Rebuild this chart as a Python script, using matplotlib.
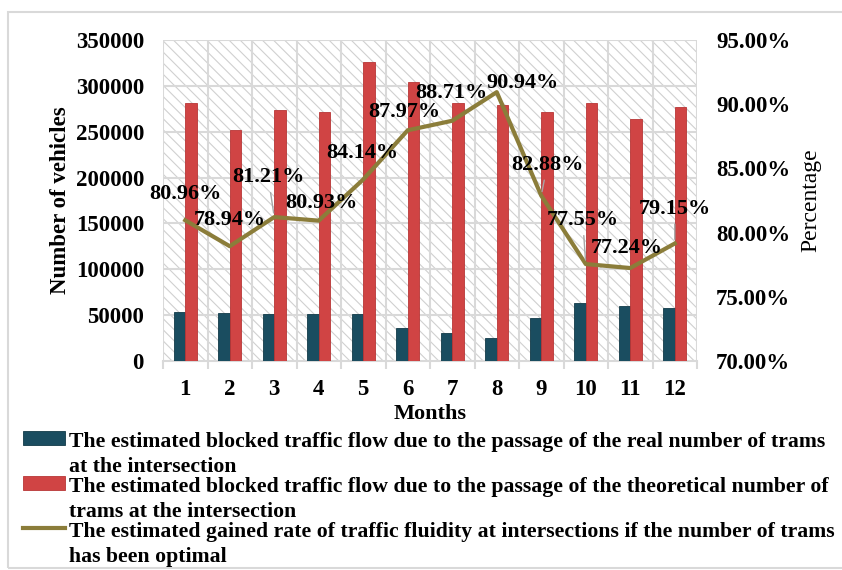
import matplotlib
matplotlib.use("Agg")
import matplotlib.pyplot as plt
from matplotlib.patches import Rectangle
from matplotlib.legend_handler import HandlerPatch, HandlerLine2D
from matplotlib.ticker import FuncFormatter, MultipleLocator
import numpy as np

months = ["1", "2", "3", "4", "5", "6", "7", "8", "9", "10", "11", "12"]
real_blocked = [53100, 52000, 50900, 50900, 50900, 35600, 30900, 24700, 46500, 62900, 60000, 57400]
theo_blocked = [281600, 251900, 274000, 271500, 326000, 304500, 281600, 279100, 271800, 281000, 263800, 276600]
gained_rate = [80.96, 78.94, 81.21, 80.93, 84.14, 87.97, 88.71, 90.94, 82.88, 77.55, 77.24, 79.15]

legend_labels = [
    "The estimated blocked traffic flow due to the passage of the real number of trams\nat the intersection",
    "The estimated blocked traffic flow due to the passage of the theoretical number of\ntrams at the intersection",
    "The estimated gained rate of traffic fluidity at intersections if the number of trams\nhas been optimal",
]

# label offsets in pixels (style only)
label_offsets = [(0, 26), (0, 26), (-6, 40), (3, 18), (-1, 26), (-3, 18),
                 (-1, 28), (26, 9), (6, 31), (-3, 44), (-3, 20), (0, 35)]
leader = [False, False, True, False, False, False, False, False, True, True, False, True]

plt.rcParams['font.family'] = ['Liberation Serif', 'DejaVu Serif']
plt.rcParams['font.weight'] = 'bold'
plt.rcParams['hatch.linewidth'] = 0.8
plt.rcParams['hatch.color'] = '#d0d0d0'

W, H = 842, 570
fig = plt.figure(figsize=(W / 100, H / 100), dpi=100)
fig.patches.append(Rectangle((8 / W, 2 / H), (850 - 8) / W, (558 - 2) / H,
                             transform=fig.transFigure, fill=False,
                             edgecolor='#d9d9d9', lw=1.5, zorder=0))

ax = fig.add_axes([163 / W, (H - 361) / H, 534 / W, 321 / H])
ax.set_facecolor('white')

x = np.arange(len(months))
n = len(months)
ax.add_patch(Rectangle((-0.5, 0), n, 350000, facecolor='white', hatch='\\\\\\',
                       edgecolor='#d0d0d0', lw=0, zorder=0))
ax.set_xlim(-0.5, n - 0.5)
ax.set_ylim(0, 350000)
ax.yaxis.set_major_locator(MultipleLocator(50000))

for yv in range(50000, 350001, 50000):
    ax.axhline(yv, color='#d9d9d9', lw=1.5, zorder=1)
for xv in np.arange(-0.5, n, 1.0):
    ax.axvline(xv, color='#d9d9d9', lw=1.5, zorder=1)

bw = 0.26
ax.bar(x - bw / 2, real_blocked, width=bw, color='#1a4d60', edgecolor='#123a48',
       lw=0.6, zorder=3, label=legend_labels[0])
ax.bar(x + bw / 2, theo_blocked, width=bw, color='#d04444', edgecolor='#b83636',
       lw=0.6, zorder=3, label=legend_labels[1])

for s in ['top', 'right', 'left']:
    ax.spines[s].set_visible(False)
ax.spines['bottom'].set_color('#d9d9d9')
ax.spines['bottom'].set_linewidth(1.5)
ax.set_xticks(x)
ax.set_xticklabels(months)
ax.set_xticks(np.arange(-0.5, n, 1.0), minor=True)
ax.tick_params(axis='x', which='major', length=0, pad=13, labelsize=16.5)
ax.tick_params(axis='x', which='minor', length=6, color='#d9d9d9', width=1.5)
ax.tick_params(axis='y', length=0, pad=13.7, labelsize=16.5)
ax.set_xlabel('Months', fontsize=16, fontweight='bold', labelpad=3)
ax.set_ylabel('Number of vehicles', fontsize=16.5, fontweight='bold', labelpad=3)

ax2 = ax.twinx()
ax2.set_ylim(70, 95)
ax2.yaxis.set_major_locator(MultipleLocator(5))
ax2.yaxis.set_major_formatter(FuncFormatter(lambda v, p: f"{v:.2f}%"))
for s in ax2.spines.values():
    s.set_visible(False)
ax2.tick_params(axis='y', length=0, pad=13.7, labelsize=16.5)
ax2.set_ylabel('Percentage', fontsize=17, fontweight='normal', labelpad=7)
line, = ax2.plot(x, gained_rate, color='#8b7d3a', lw=3, zorder=4, label=legend_labels[2])

for i, v in enumerate(gained_rate):
    dx, dy = label_offsets[i]
    kw = {}
    if leader[i]:
        kw['arrowprops'] = dict(arrowstyle='-', color='#a6a6a6', lw=1, shrinkA=2, shrinkB=3)
    ax2.annotate(f"{v:.2f}%", (x[i], v), xytext=(dx, dy), textcoords='offset pixels',
                 ha='center', va='center', fontsize=16, fontweight='bold',
                 color='black', zorder=5, **kw)


SHIFT = 0.75


def _from_first(handle, orig):
    handle.update_from(orig.patches[0])


class UpPatch(HandlerPatch):
    def create_artists(self, legend, orig_handle, xdescent, ydescent, width, height, fontsize, trans):
        p = Rectangle(xy=(-xdescent, -ydescent + SHIFT * fontsize), width=width, height=height)
        self.update_prop(p, orig_handle, legend)
        p.set_transform(trans)
        return [p]


class UpLine(HandlerLine2D):
    def create_artists(self, legend, orig_handle, xdescent, ydescent, width, height, fontsize, trans):
        arts = super().create_artists(legend, orig_handle, xdescent, ydescent, width, height, fontsize, trans)
        for a in arts:
            a.set_ydata(np.asarray(a.get_ydata()) + SHIFT * fontsize)
        return arts


bar_handles = ax.get_legend_handles_labels()[0]
handles = bar_handles + [line]
fs = 15.7
leg = fig.legend(handles, legend_labels, loc='upper left', bbox_to_anchor=(23 / W, (H - 432) / H),
                 frameon=False, handlelength=42 / (fs * 100 / 72), handleheight=0.6,
                 handletextpad=0.2, labelspacing=0.0, borderaxespad=0, borderpad=0,
                 prop={'family': 'Liberation Serif', 'weight': 'bold', 'size': fs},
                 handler_map={bar_handles[0]: UpPatch(update_func=_from_first),
                              bar_handles[1]: UpPatch(update_func=_from_first),
                              line: UpLine()})
for t in leg.get_texts():
    t.set_linespacing(1.33)

fig.savefig('out.png', dpi=100)
